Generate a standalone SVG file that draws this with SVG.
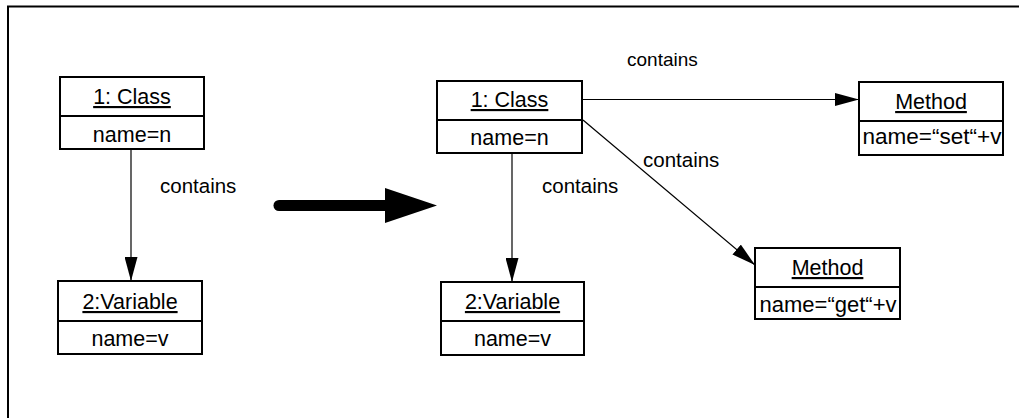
<svg xmlns="http://www.w3.org/2000/svg" width="1019" height="418" viewBox="0 0 1019 418">
  <defs>
    <marker id="arrow" viewBox="0 0 24 13" refX="24" refY="6.5" markerWidth="24" markerHeight="13" markerUnits="userSpaceOnUse" orient="auto">
      <path d="M0,0 L24,6.5 L0,13 Z" fill="#000"/>
    </marker>
    <style>
      .box { fill: #fff; stroke: #000; stroke-width: 2; }
      .div { stroke: #000; stroke-width: 2; }
      .txt { font-family: "Liberation Sans", Arial, sans-serif; font-size: 21.5px; fill: #000; text-anchor: middle; }
      .title { text-decoration: underline; }
      .lbl { font-family: "Liberation Sans", Arial, sans-serif; font-size: 20.5px; fill: #000; }
      .conn { stroke: #000; stroke-width: 1.2; fill: none; marker-end: url(#arrow); }
    </style>
  </defs>
  <rect width="1019" height="418" fill="#fff"/>
  <!-- frame (open to the right and bottom) -->
  <path d="M8,418 V6.5 H1019" fill="none" stroke="#000" stroke-width="2"/>

  <!-- left: before -->
  <g id="left-class">
    <rect class="box" x="60" y="77" width="144" height="72"/>
    <line class="div" x1="60" y1="116" x2="204" y2="116"/>
    <text class="txt title" x="132" y="104">1: Class</text>
    <text class="txt" x="132" y="142">name=n</text>
  </g>
  <g id="left-variable">
    <rect class="box" x="58" y="281" width="144" height="73"/>
    <line class="div" x1="58" y1="321" x2="202" y2="321"/>
    <text class="txt title" x="130" y="309">2:Variable</text>
    <text class="txt" x="130" y="346">name=v</text>
  </g>

  <!-- transformation arrow -->
  <g id="transform-arrow">
    <line x1="279" y1="205.5" x2="388" y2="205.5" stroke="#000" stroke-width="11" stroke-linecap="round"/>
    <path d="M385,188 L437,205.5 L385,223 Z" fill="#000"/>
  </g>

  <!-- right: after -->
  <g id="right-class">
    <rect class="box" x="437" y="81" width="145" height="72"/>
    <line class="div" x1="437" y1="120" x2="582" y2="120"/>
    <text class="txt title" x="509.5" y="107">1: Class</text>
    <text class="txt" x="509.5" y="145">name=n</text>
  </g>
  <g id="right-variable">
    <rect class="box" x="441" y="282" width="143" height="73"/>
    <line class="div" x1="441" y1="321" x2="584" y2="321"/>
    <text class="txt title" x="512.5" y="309">2:Variable</text>
    <text class="txt" x="512.5" y="346">name=v</text>
  </g>
  <g id="method-set">
    <rect class="box" x="859" y="82" width="144" height="73"/>
    <line class="div" x1="859" y1="121" x2="1003" y2="121"/>
    <text class="txt title" x="931" y="109">Method</text>
    <text class="txt" x="932" y="144" textLength="139" lengthAdjust="spacingAndGlyphs">name=“set“+v</text>
  </g>
  <g id="method-get">
    <rect class="box" x="755" y="248" width="145" height="71"/>
    <line class="div" x1="755" y1="287" x2="900" y2="287"/>
    <text class="txt title" x="827.5" y="275">Method</text>
    <text class="txt" x="828" y="312" textLength="137" lengthAdjust="spacingAndGlyphs">name=“get“+v</text>
  </g>

  <!-- connectors -->
  <g id="connectors">
    <line class="conn" x1="131" y1="149" x2="131" y2="281"/>
    <line class="conn" x1="512" y1="153" x2="512" y2="282"/>
    <line class="conn" x1="582" y1="99.5" x2="859" y2="99.5"/>
    <line class="conn" x1="583" y1="120" x2="755" y2="265"/>
    <text class="lbl" x="160" y="193">contains</text>
    <text class="lbl" x="542" y="193">contains</text>
    <text class="lbl" x="627" y="66" style="font-size:19px">contains</text>
    <text class="lbl" x="643" y="167">contains</text>
  </g>
</svg>
